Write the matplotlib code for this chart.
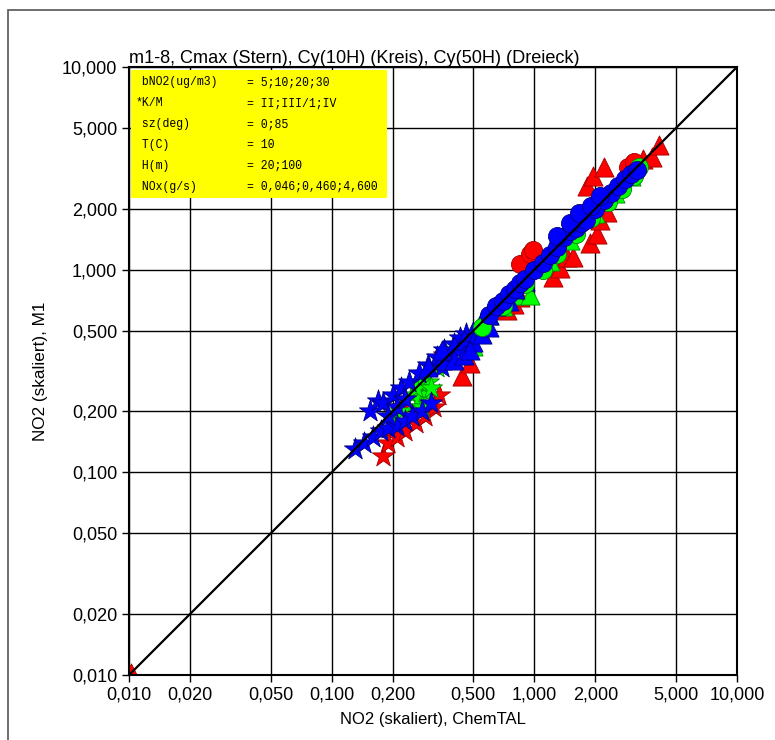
import matplotlib
matplotlib.use("Agg")
import matplotlib.pyplot as plt
import matplotlib.patches as patches
from matplotlib.ticker import FixedLocator, NullLocator

plt.rcParams['font.family'] = ['Liberation Sans', 'DejaVu Sans']

# Cmax (Stern)
stern_rot_x = [0.18, 0.19, 0.21, 0.23, 0.26, 0.29, 0.32, 0.22, 0.36, 0.34]
stern_rot_y = [0.12, 0.14, 0.15, 0.16, 0.175, 0.19, 0.21, 0.21, 0.38, 0.24]
stern_gruen_x = [0.20, 0.22, 0.25, 0.27, 0.29, 0.30, 0.27, 0.26, 0.31, 0.33, 0.37, 0.28]
stern_gruen_y = [0.19, 0.20, 0.24, 0.23, 0.25, 0.28, 0.28, 0.26, 0.26, 0.33, 0.37, 0.21]
stern_blau_x = [0.13, 0.145, 0.16, 0.175, 0.19, 0.21, 0.23, 0.25, 0.28, 0.31,
                0.155, 0.17, 0.18, 0.20, 0.22, 0.24, 0.27, 0.30, 0.33, 0.36, 0.40, 0.43, 0.46,
                0.19, 0.21, 0.23, 0.35, 0.39]
stern_blau_y = [0.13, 0.14, 0.15, 0.16, 0.165, 0.17, 0.18, 0.19, 0.20, 0.22,
                0.20, 0.225, 0.22, 0.24, 0.26, 0.28, 0.31, 0.34, 0.37, 0.40, 0.43, 0.46, 0.48,
                0.19, 0.21, 0.23, 0.33, 0.38]

# Cy(10H) (Kreis)
kreis_rot_x = [0.85, 0.95, 0.99, 2.9, 3.1]
kreis_rot_y = [1.07, 1.20, 1.25, 3.2, 3.4]
kreis_gruen_x = [0.55, 0.7, 0.9, 1.1, 1.3, 1.6, 1.9, 2.3, 2.7, 3.1, 3.3]
kreis_gruen_y = [0.52, 0.66, 0.85, 1.0, 1.2, 1.5, 1.8, 2.15, 2.5, 2.9, 3.2]
kreis_blau_x = [0.6, 0.65, 0.7, 0.75, 0.8, 0.85, 0.9, 1.0, 1.1, 1.2, 1.3, 1.4, 1.5, 1.6,
                1.7, 1.8, 2.0, 2.2, 2.4, 2.6, 2.8, 3.0, 3.2, 1.3, 1.5, 1.67, 1.9, 2.1]
kreis_blau_y = [0.6, 0.66, 0.7, 0.76, 0.8, 0.86, 0.9, 1.0, 1.08, 1.18, 1.3, 1.45, 1.55, 1.6,
                1.7, 1.75, 2.0, 2.2, 2.4, 2.6, 2.8, 2.95, 3.1, 1.46, 1.7, 1.9, 2.05, 2.3]

# Cy(50H) (Dreieck)
dreieck_rot_x = [0.0102, 0.44, 0.48, 0.73, 0.79, 0.85, 1.23, 1.34, 1.45, 1.55, 1.88, 2.04,
                 2.1, 2.28, 1.82, 1.95, 2.2, 3.44, 3.8, 4.1]
dreieck_rot_y = [0.0102, 0.30, 0.345, 0.63, 0.68, 0.73, 0.92, 1.02, 1.15, 1.15, 1.35, 1.5,
                 1.75, 1.92, 2.6, 2.9, 3.2, 3.5, 3.6, 4.1]
dreieck_gruen_x = [0.5, 0.53, 0.56, 0.6, 0.7, 0.8, 0.95, 1.2, 1.5, 2.0, 2.5, 3.0]
dreieck_gruen_y = [0.42, 0.50, 0.58, 0.60, 0.66, 0.75, 0.75, 1.1, 1.4, 1.9, 2.4, 2.9]
dreieck_blau_x = [0.3, 0.35, 0.4, 0.45, 0.5, 0.55, 0.6, 0.65, 0.7, 0.8, 0.9,
                  0.4, 0.45, 0.5, 0.55, 0.6, 0.35, 0.75, 0.48]
dreieck_blau_y = [0.33, 0.36, 0.42, 0.45, 0.5, 0.56, 0.6, 0.66, 0.7, 0.8, 0.88,
                  0.36, 0.38, 0.44, 0.48, 0.52, 0.40, 0.70, 0.40]

ticks = [0.01, 0.02, 0.05, 0.1, 0.2, 0.5, 1, 2, 5, 10]
tick_labels = ['0,010', '0,020', '0,050', '0,100', '0,200', '0,500',
               '1,000', '2,000', '5,000', '10,000']

info_keys = [' bNO2(ug/m3)', '*K/M', ' sz(deg)', ' T(C)', ' H(m)', ' NOx(g/s)']
info_vals = ['5;10;20;30', 'II;III/1;IV', '0;85', '10', '20;100', '0,046;0,460;4,600']

farben = {'rot': ('#ff0000', '#a00000'),
          'gruen': ('#00ff00', '#008800'),
          'blau': ('#0000ff', '#000080')}

fig = plt.figure(figsize=(7.75, 7.4), dpi=100)
ax = fig.add_axes([0.1665, 0.0878, 0.7845, 0.8217])

fig.patches.append(patches.Rectangle((0.0103, -0.1), 1.2, 1.0865, transform=fig.transFigure,
                                     fill=False, edgecolor='#555555', linewidth=1.2))

ax.set_xscale('log')
ax.set_yscale('log')
ax.set_xlim(0.01, 10)
ax.set_ylim(0.01, 10)

for t in ticks:
    ax.axvline(t, color='black', linewidth=1, zorder=1)
    ax.axhline(t, color='black', linewidth=1, zorder=1)

ax.plot([0.01, 10], [0.01, 10], color='black', linewidth=1.6, zorder=5)

reihen = [
    ('*', 280, [(stern_rot_x, stern_rot_y, 'rot'), (stern_gruen_x, stern_gruen_y, 'gruen'),
                (stern_blau_x, stern_blau_y, 'blau')]),
    ('^', 190, [(dreieck_rot_x, dreieck_rot_y, 'rot'), (dreieck_gruen_x, dreieck_gruen_y, 'gruen'),
                (dreieck_blau_x, dreieck_blau_y, 'blau')]),
    ('o', 170, [(kreis_rot_x, kreis_rot_y, 'rot'), (kreis_gruen_x, kreis_gruen_y, 'gruen'),
                (kreis_blau_x, kreis_blau_y, 'blau')]),
]
z = 3
for marker, size, gruppen in reihen:
    for xs, ys, farbe in gruppen:
        fc, ec = farben[farbe]
        ax.scatter(xs, ys, marker=marker, s=size, facecolor=fc, edgecolor=ec,
                   linewidth=0.6, zorder=z)
        z += 0.01

ax.xaxis.set_major_locator(FixedLocator(ticks))
ax.yaxis.set_major_locator(FixedLocator(ticks))
ax.xaxis.set_minor_locator(NullLocator())
ax.yaxis.set_minor_locator(NullLocator())
ax.set_xticklabels(tick_labels)
ax.set_yticklabels(tick_labels)
ax.tick_params(axis='both', which='major', labelsize=13, length=5, width=1,
               direction='out', color='black')
for s in ax.spines.values():
    s.set_linewidth(1.5)
    s.set_zorder(6)

ax.set_xlabel('NO2 (skaliert), ChemTAL', fontsize=12, labelpad=6)
ax.set_ylabel('NO2 (skaliert), M1', fontsize=12.3, labelpad=10)
ax.set_title('m1-8, Cmax (Stern), Cy(10H) (Kreis), Cy(50H) (Dreieck)',
             fontsize=13.1, loc='left', pad=3)

ax.add_patch(patches.Rectangle((0.003, 0.785), 0.421, 0.21, transform=ax.transAxes,
                               facecolor='#ffff00', edgecolor='none', zorder=7))
for i, (k, v) in enumerate(zip(info_keys, info_vals)):
    y = 0.975 - i * 0.0345
    ax.text(0.01, y, k, transform=ax.transAxes, family='Liberation Mono',
            fontsize=8.3, va='center', ha='left', zorder=8)
    ax.text(0.194, y, '= ' + v, transform=ax.transAxes, family='Liberation Mono',
            fontsize=8.3, va='center', ha='left', zorder=8)

fig.savefig('out.png', dpi=100)
